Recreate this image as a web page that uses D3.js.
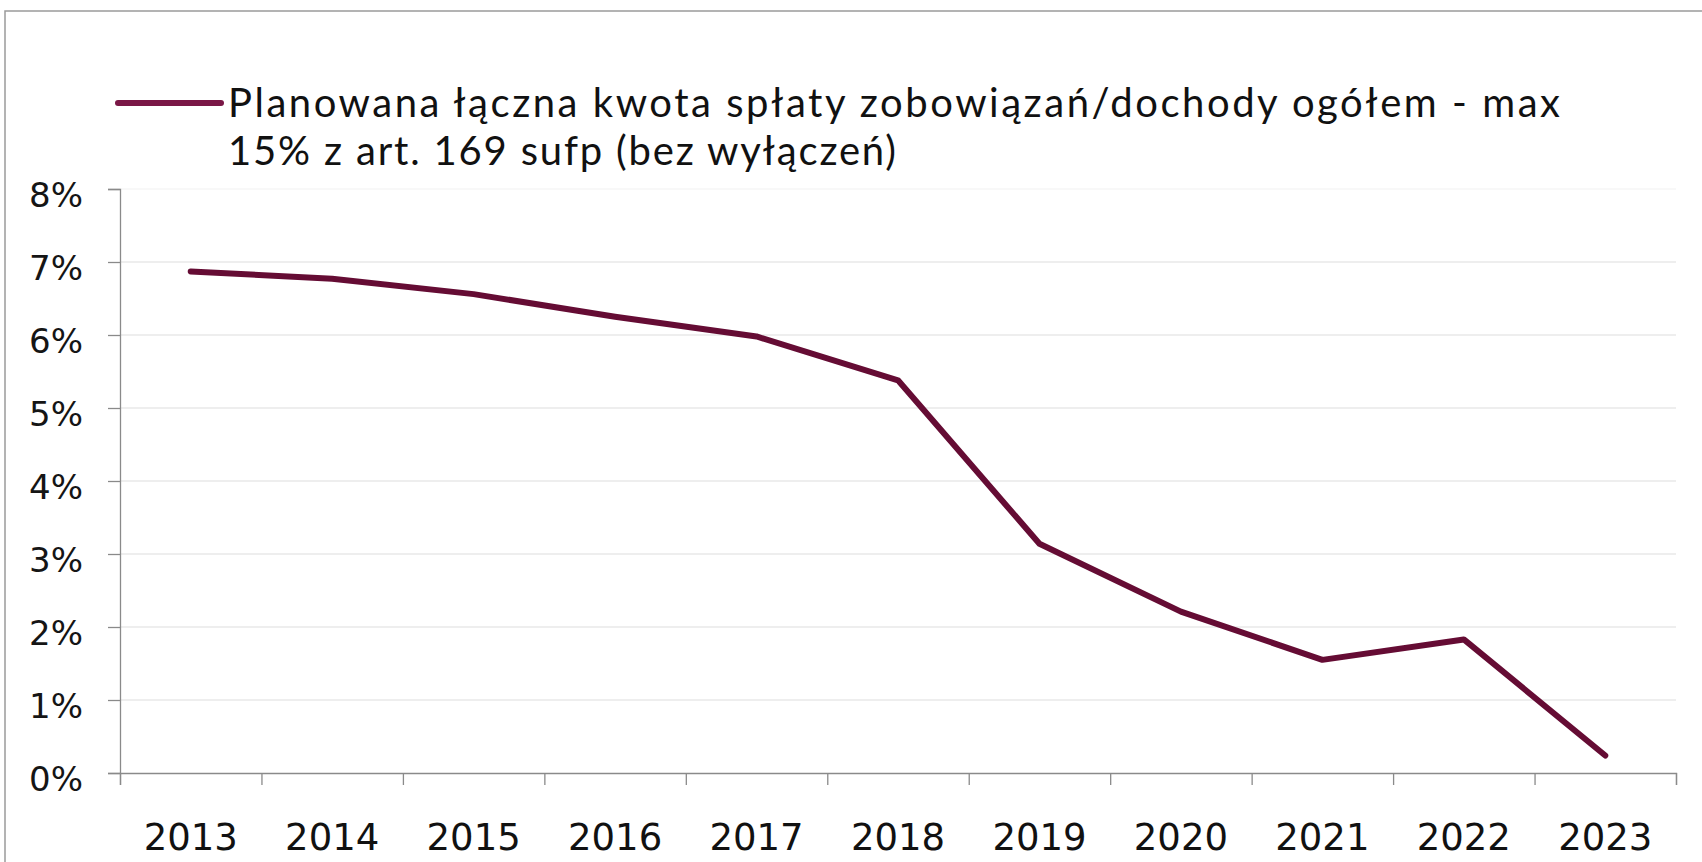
<!DOCTYPE html>
<html>
<head>
<meta charset="utf-8">
<script src="https://cdn.jsdelivr.net/npm/d3@7"></script>
<style>
  body { margin: 0; background: #fff; }
  svg { display: block; }
</style>
</head>
<body>
<svg id="chart" width="1702" height="862"></svg>
<script>
const years = ["2013", "2014", "2015", "2016", "2017", "2018", "2019", "2020", "2021", "2022", "2023"]
const values = [6.87, 6.77, 6.56, 6.25, 5.98, 5.38, 3.14, 2.21, 1.55, 1.83, 0.24]
const yTicks = [0, 1, 2, 3, 4, 5, 6, 7, 8]
const legendLines = ["Planowana łączna kwota spłaty zobowiązań/dochody ogółem - max", "15% z art. 169 sufp (bez wyłączeń)"]

const svg = d3.select("#chart")
const plotLeft = 120, plotRight = 1676, plotTop = 189, plotBottom = 773
const lineColor = "#650c34"

// frame of the scanned chart
svg.append("rect")
    .attr("x", 5).attr("y", 11)
    .attr("width", 1720).attr("height", 900)
    .attr("fill", "none").attr("stroke", "#9a9a9a").attr("stroke-width", 1.5)

const xBand = d3.scaleBand()
    .domain(years)
    .range([plotLeft, plotRight])
    .padding(0)

const xEdge = d3.scaleLinear()
    .domain([0, years.length])
    .range([plotLeft, plotRight])

const yScale = d3.scaleLinear()
    .domain([0, 8])
    .range([plotBottom, plotTop])

// gridlines
svg.append("g")
    .selectAll("line")
    .data(yTicks.filter(d => d > 0))
    .join("line")
    .attr("x1", plotLeft).attr("x2", plotRight)
    .attr("y1", d => yScale(d)).attr("y2", d => yScale(d))
    .attr("stroke", d => d === 8 ? "#f2f2f2" : "#dedede")
    .attr("stroke-width", 1.2)

// y axis
const yAxis = d3.axisLeft(yScale)
    .tickValues(yTicks)
    .tickFormat(d => d + "%")
    .tickSize(12)
    .tickPadding(25)
svg.append("g")
    .attr("transform", `translate(${plotLeft},0)`)
    .call(yAxis)
    .call(g => g.selectAll("path, line").attr("stroke", "#8a8a8a").attr("stroke-width", 1.3))
    .call(g => g.selectAll("text")
        .attr("fill", "#151515")
        .attr("dy", "0.5em")
        .style("font-family", "'DejaVu Sans', Verdana, sans-serif")
        .style("font-size", "34px"))

// x axis: ticks between categories
const xTickAxis = d3.axisBottom(xEdge)
    .tickValues(d3.range(0, years.length + 1))
    .tickFormat("")
    .tickSize(12)
svg.append("g")
    .attr("transform", `translate(0,${plotBottom})`)
    .call(xTickAxis)
    .call(g => g.selectAll("path, line").attr("stroke", "#8a8a8a").attr("stroke-width", 1.3))

// x labels centred on categories
const xAxis = d3.axisBottom(xBand)
    .tickSize(0)
    .tickPadding(51)
svg.append("g")
    .attr("transform", `translate(0,${plotBottom})`)
    .call(xAxis)
    .call(g => g.select(".domain").remove())
    .call(g => g.selectAll("text")
        .attr("fill", "#111")
        .style("font-family", "'DejaVu Sans', Verdana, sans-serif")
        .style("font-size", "37px"))

// the series
const myLine = d3.line()
    .x((d, i) => xBand(years[i]) + xBand.bandwidth() / 2)
    .y(d => yScale(d))

svg.append("path")
    .datum(values)
    .attr("d", myLine)
    .attr("fill", "none")
    .attr("stroke", lineColor)
    .attr("stroke-width", 6)
    .attr("stroke-linejoin", "round")
    .attr("stroke-linecap", "round")

// legend
const legend = svg.append("g")
legend.append("line")
    .attr("x1", 118).attr("x2", 221)
    .attr("y1", 103).attr("y2", 103)
    .attr("stroke", "#7a1746")
    .attr("stroke-width", 6)
    .attr("stroke-linecap", "round")

const legendWidths = [1332, 668]
legend.selectAll("text")
    .data(legendLines)
    .join("text")
    .attr("x", 228)
    .attr("y", (d, i) => 117 + i * 48)
    .attr("textLength", (d, i) => legendWidths[i])
    .attr("lengthAdjust", "spacing")
    .attr("fill", "#111")
    .style("font-family", "Lato, 'Open Sans', sans-serif")
    .style("font-size", "40px")
    .text(d => d)
</script>
</body>
</html>
